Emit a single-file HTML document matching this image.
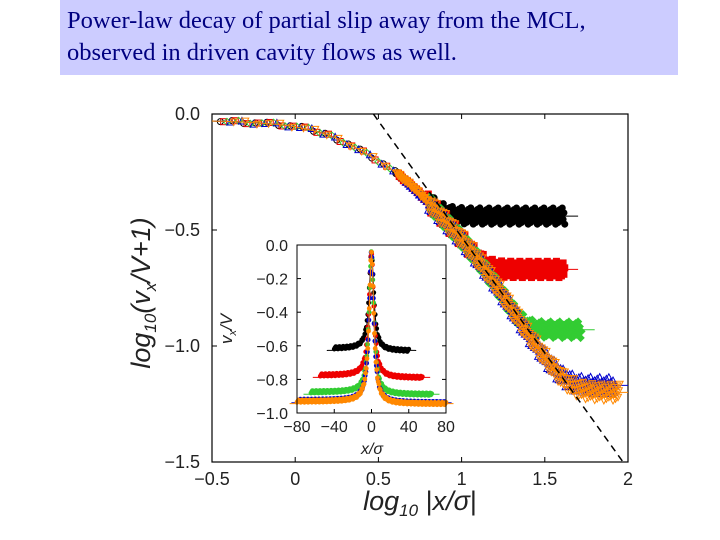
<!DOCTYPE html>
<html><head><meta charset="utf-8"><style>
body{margin:0;width:720px;height:540px;background:#fff;overflow:hidden;font-family:"Liberation Sans",sans-serif}
#title{position:absolute;left:60px;top:0;width:618px;height:75px;background:#ccccff;color:#000080;font-family:"Liberation Serif",serif;font-size:24.5px;line-height:32px;padding:5px 0 0 7px;box-sizing:border-box}
svg{position:absolute;left:0;top:0}
</style></head><body>
<div id="title">Power-law decay of partial slip away from the MCL,<br>observed in driven cavity flows as well.</div>
<svg id="chart" width="720" height="540"></svg>
<script>
// main plot data
const masterX=[-0.5,-0.3,-0.1,0,0.1,0.2,0.3,0.4,0.5,0.6,0.7,0.8,0.9,1.0,1.1,1.2,1.3,1.4,1.5,1.6,1.7,1.8,1.9,2.0];
const masterY=[-0.03,-0.035,-0.045,-0.055,-0.07,-0.09,-0.12,-0.16,-0.2,-0.25,-0.31,-0.38,-0.46,-0.54,-0.63,-0.73,-0.84,-0.95,-1.05,-1.14,-1.22,-1.3,-1.38,-1.45];
const seriesNames=["black","red","green","blue","orange"];
const seriesColors=["#000000","#ee0000","#33cc33","#0000cc","#ff8800"];
const plateaus=[-0.44,-0.67,-0.93,-1.17,-1.2];
const seriesEnd=[1.62,1.62,1.72,1.92,1.95];
const xTicks=[-0.5,0,0.5,1,1.5,2];
const xTickLabels=["\u22120.5","0","0.5","1","1.5","2"];
const yTicks=[0,-0.5,-1,-1.5];
const yTickLabels=["0.0","\u22120.5","\u22121.0","\u22121.5"];
// inset data
const insetPlateaus=[-0.63,-0.79,-0.89,-0.94,-0.945];
const insetHalfWidth=[40,55,65,78,80];
const insetPeak=-0.05;
const insetXTicks=[-80,-40,0,40,80];
const insetYTicks=[0,-0.2,-0.4,-0.6,-0.8,-1.0];
const insetYLabels=["0.0","\u22120.2","\u22120.4","\u22120.6","\u22120.8","\u22121.0"];

const NS="http://www.w3.org/2000/svg";
const svg=document.getElementById('chart');
function mk(t,a,p){const e=document.createElementNS(NS,t);for(const k in a)e.setAttribute(k,a[k]);(p||svg).appendChild(e);return e;}
const L=212,R=628,T=114,B=462;
const sx=v=>L+(v+0.5)/2.5*(R-L), sy=v=>T-v/1.5*(B-T);
function master(x){for(let i=1;i<masterX.length;i++){if(x<=masterX[i]){const t=(x-masterX[i-1])/(masterX[i]-masterX[i-1]);return masterY[i-1]+t*(masterY[i]-masterY[i-1]);}}return masterY[masterY.length-1];}
function seriesVal(x,p){const m=master(x),k=0.035;return p+k*Math.log(1+Math.exp((m-p)/k));}
// frame
const frame=mk('rect',{x:L,y:T,width:R-L,height:B-T,fill:'none',stroke:'#000','stroke-width':1.2});

xTicks.forEach((v,i)=>{mk('line',{x1:sx(v),x2:sx(v),y1:B,y2:B-5,stroke:'#000'});mk('line',{x1:sx(v),x2:sx(v),y1:T,y2:T+5,stroke:'#000'});
 const t=mk('text',{x:sx(v),y:B+23,'text-anchor':'middle','font-size':18,fill:'#222'});t.textContent=xTickLabels[i];
 });
yTicks.forEach((v,i)=>{mk('line',{x1:L,x2:L+5,y1:sy(v),y2:sy(v),stroke:'#000'});mk('line',{x1:R,x2:R-5,y1:sy(v),y2:sy(v),stroke:'#000'});
 const t=mk('text',{x:L-12,y:sy(v)+6,'text-anchor':'end','font-size':18,fill:'#222'});t.textContent=yTickLabels[i];
 });
// series
const g=mk('g',{'clip-path':'url(#cp)'});
const cp=mk('clipPath',{id:'cp'});mk('rect',{x:L,y:T,width:R-L,height:B-T},cp);
seriesNames.forEach((n,si)=>{
 const c=seriesColors[si];
 let d='';for(let x=-0.5;x<=seriesEnd[si]+0.1;x+=0.02){d+=(d?'L':'M')+sx(x).toFixed(1)+','+sy(seriesVal(x,plateaus[si])).toFixed(1);}
 const ln=mk('path',{d:d,fill:'none',stroke:c,'stroke-width':1},g);
 
 let j=0;
 for(let x=-0.45+si*0.02;x<=seriesEnd[si];x+=(x<0.6?0.07:0.005)){
  j++;const off=((j*37)%11-5)*0.005*(x>0.8?1.4:0.3);
  const y=seriesVal(x,plateaus[si])+off;const px=sx(x),py=sy(y);
  const fl=x>0.8?c:'none';
  let m;
  if(si==3) m=mk('path',{d:`M${px-3.5},${py+3}L${px+3.5},${py+3}L${px},${py-3.5}Z`,fill:'none',stroke:c,'stroke-width':1},g);
  else if(si==4) m=mk('path',{d:`M${px-3.5},${py-3}L${px+3.5},${py-3}L${px},${py+3.5}Z`,fill:'none',stroke:c,'stroke-width':1},g);
  else if(si==2) m=mk('path',{d:`M${px-3.5},${py}L${px},${py-3.5}L${px+3.5},${py}L${px},${py+3.5}Z`,fill:fl,stroke:c,'stroke-width':1},g);
  else if(si==1) m=mk('rect',{x:px-3,y:py-3,width:6,height:6,fill:fl,stroke:c,'stroke-width':1},g);
  else m=mk('circle',{cx:px,cy:py,r:3,fill:fl,stroke:c,'stroke-width':1},g);
  
 }
});
const dash=mk('line',{x1:sx(0.47),y1:sy(0),x2:sx(1.97),y2:sy(-1.5),stroke:'#000','stroke-width':1.5,'stroke-dasharray':'7,5'});

let t=mk('text',{x:sx(0.75),y:510,'text-anchor':'middle','font-size':27,'font-style':'italic',fill:'#222'});
t.innerHTML='log<tspan font-size="17" dy="6">10</tspan><tspan dy="-6" font-style="normal"> |</tspan>x/σ<tspan font-style="normal">|</tspan>';

t=mk('text',{x:0,y:0,'text-anchor':'middle','font-size':27,'font-style':'italic',fill:'#222',transform:`translate(150,${(T+B)/2+5}) rotate(-90)`});
t.innerHTML='log<tspan font-size="17" dy="6">10</tspan><tspan dy="-6">(v</tspan><tspan font-size="17" dy="6">x</tspan><tspan dy="-6">/V+1)</tspan>';

// inset
const IL=297,IR=446,IT=245,IB=413;
const ix=v=>IL+(v+80)/160*(IR-IL), iy=v=>IT-v*(IB-IT);
mk('rect',{x:IL,y:IT,width:IR-IL,height:IB-IT,fill:'#fff',stroke:'none'});
const ig=mk('g',{});
seriesNames.forEach((n,si)=>{
 const c=seriesColors[si],p=insetPlateaus[si],hw=insetHalfWidth[si];
 const f=x=>p+(insetPeak-p)/(1+Math.pow(Math.abs(x)/3,2));
 let d='';for(let x=-hw-8;x<=hw+8;x+=0.5){d+=(d?'L':'M')+ix(x).toFixed(1)+','+iy(f(x)).toFixed(1);}
 const ln=mk('path',{d:d,fill:'none',stroke:c,'stroke-width':1},ig);
 
 for(let x=-hw;x<=hw;x+=0.8){const m=mk('circle',{cx:ix(x),cy:iy(f(x))+((Math.round(x*5)*7)%5-2)*0.6,r:2.4,fill:c},ig);
  }
});
const ifr=mk('rect',{x:IL,y:IT,width:IR-IL,height:IB-IT,fill:'none',stroke:'#000','stroke-width':1});

insetXTicks.forEach(v=>{mk('line',{x1:ix(v),x2:ix(v),y1:IB,y2:IB-4,stroke:'#000'});
 const t=mk('text',{x:ix(v),y:IB+19,'text-anchor':'middle','font-size':16,fill:'#222'});t.textContent=(v<0?'\u2212'+(-v):v);
 });
insetYTicks.forEach((v,i)=>{mk('line',{x1:IL,x2:IL+4,y1:iy(v),y2:iy(v),stroke:'#000'});mk('line',{x1:IR,x2:IR-4,y1:iy(v),y2:iy(v),stroke:'#000'});
 const t=mk('text',{x:IL-9,y:iy(v)+6,'text-anchor':'end','font-size':16,fill:'#222'});t.textContent=insetYLabels[i];
 });
t=mk('text',{x:372,y:454,'text-anchor':'middle','font-size':16,'font-style':'italic',fill:'#222'});t.textContent='x/σ';

t=mk('text',{x:0,y:0,'text-anchor':'middle','font-size':17,'font-style':'italic',fill:'#222',transform:'translate(232,329) rotate(-90)'});
t.innerHTML='v<tspan font-size="11" dy="4">x</tspan><tspan dy="-4">/V</tspan>';

</script>
</body></html>
